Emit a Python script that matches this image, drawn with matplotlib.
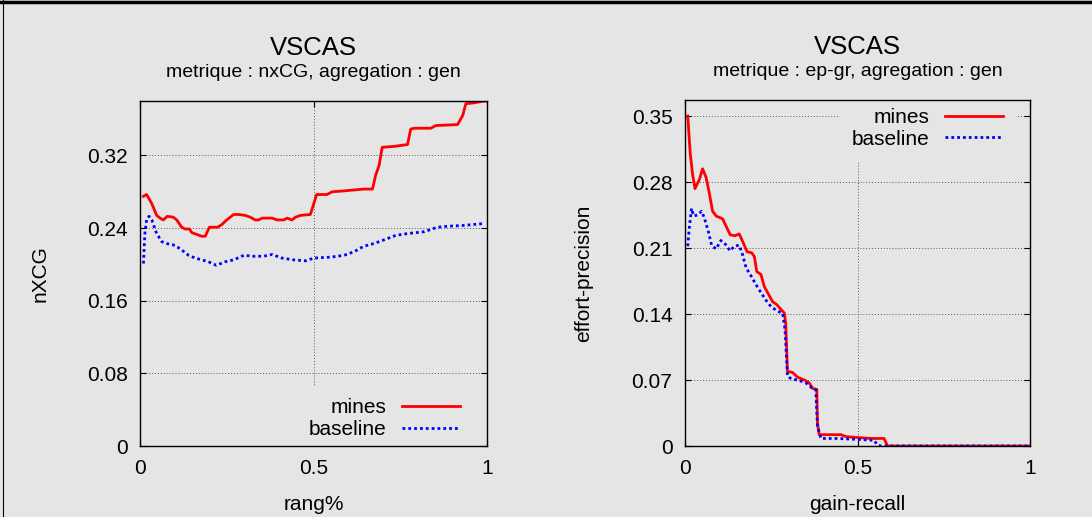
import matplotlib
matplotlib.use("Agg")
import matplotlib.pyplot as plt
from matplotlib.lines import Line2D

plt.rcParams['font.family'] = ['Liberation Sans', 'DejaVu Sans']

# nxCG panel
rang = [0.010, 0.019, 0.034, 0.048, 0.058, 0.067, 0.079, 0.096, 0.106, 0.120,
        0.130, 0.143, 0.149, 0.164, 0.178, 0.188, 0.200, 0.212, 0.224, 0.236,
        0.250, 0.270, 0.284, 0.303, 0.318, 0.332, 0.342, 0.352, 0.366, 0.381,
        0.395, 0.414, 0.424, 0.438, 0.448, 0.462, 0.491, 0.509, 0.539, 0.554,
        0.588, 0.617, 0.645, 0.670, 0.679, 0.689, 0.698, 0.732, 0.771, 0.780,
        0.790, 0.838, 0.853, 0.915, 0.930, 0.939, 0.963, 0.992, 1.000]
nxcg_mines = [0.275, 0.277, 0.267, 0.254, 0.251, 0.249, 0.253, 0.252, 0.249, 0.241,
              0.239, 0.239, 0.235, 0.233, 0.231, 0.231, 0.241, 0.241, 0.241, 0.244,
              0.249, 0.255, 0.255, 0.254, 0.252, 0.249, 0.249, 0.251, 0.251, 0.251,
              0.249, 0.249, 0.251, 0.249, 0.252, 0.254, 0.255, 0.277, 0.277, 0.280,
              0.281, 0.282, 0.283, 0.283, 0.298, 0.309, 0.329, 0.330, 0.332, 0.349,
              0.350, 0.350, 0.353, 0.354, 0.364, 0.377, 0.378, 0.380, 0.380]

rang_b = [0.010, 0.014, 0.019, 0.026, 0.034, 0.048, 0.063, 0.077, 0.101, 0.120,
          0.140, 0.159, 0.178, 0.197, 0.220, 0.246, 0.270, 0.299, 0.328, 0.356,
          0.381, 0.409, 0.443, 0.477, 0.501, 0.549, 0.588, 0.617, 0.645, 0.674,
          0.703, 0.737, 0.771, 0.819, 0.857, 0.886, 0.934, 0.990]
nxcg_base = [0.201, 0.234, 0.249, 0.253, 0.249, 0.234, 0.225, 0.223, 0.221, 0.216,
             0.210, 0.207, 0.205, 0.203, 0.199, 0.203, 0.205, 0.210, 0.209, 0.209,
             0.211, 0.207, 0.205, 0.204, 0.207, 0.208, 0.210, 0.214, 0.220, 0.223,
             0.227, 0.232, 0.234, 0.236, 0.241, 0.242, 0.243, 0.245]

# ep-gr panel
recall_m = [0.008, 0.015, 0.022, 0.029, 0.042, 0.051, 0.061, 0.070, 0.080, 0.090,
            0.109, 0.118, 0.131, 0.145, 0.157, 0.167, 0.180, 0.193, 0.201, 0.208,
            0.220, 0.230, 0.239, 0.254, 0.266, 0.278, 0.288, 0.292, 0.297, 0.312,
            0.326, 0.346, 0.360, 0.370, 0.382, 0.384, 0.389, 0.413, 0.452, 0.466,
            0.500, 0.539, 0.577, 0.587, 1.000]
ep_mines = [0.350, 0.311, 0.288, 0.273, 0.283, 0.294, 0.285, 0.269, 0.249, 0.244,
            0.241, 0.234, 0.224, 0.223, 0.225, 0.217, 0.206, 0.205, 0.201, 0.185,
            0.182, 0.169, 0.163, 0.153, 0.150, 0.145, 0.141, 0.130, 0.079, 0.078,
            0.073, 0.070, 0.067, 0.061, 0.060, 0.024, 0.012, 0.012, 0.012, 0.010,
            0.009, 0.008, 0.008, 0.000, 0.000]

recall_b = [0.008, 0.012, 0.019, 0.025, 0.036, 0.048, 0.056, 0.068, 0.077, 0.090,
            0.104, 0.117, 0.131, 0.143, 0.157, 0.167, 0.177, 0.189, 0.206, 0.218,
            0.234, 0.249, 0.268, 0.283, 0.290, 0.297, 0.309, 0.326, 0.350, 0.370,
            0.379, 0.384, 0.394, 0.442, 0.500, 0.548, 0.558, 0.568, 1.000]
ep_base = [0.212, 0.230, 0.252, 0.244, 0.245, 0.249, 0.242, 0.227, 0.213, 0.209,
           0.218, 0.214, 0.207, 0.212, 0.213, 0.203, 0.189, 0.182, 0.171, 0.164,
           0.155, 0.148, 0.143, 0.141, 0.123, 0.074, 0.071, 0.070, 0.067, 0.061,
           0.060, 0.021, 0.008, 0.008, 0.007, 0.006, 0.001, 0.000, 0.000]

bg = '#e5e5e5'
fs = 15
fig = plt.figure(figsize=(10.92, 5.17), dpi=100, facecolor=bg)

panels = [
    dict(pos=[140/1092, 71/517, 347/1092, 345/517], x1=rang, y1=nxcg_mines,
         x2=rang_b, y2=nxcg_base, ymax=0.38, yticks=[0, 0.08, 0.16, 0.24, 0.32],
         ytl=['0', '0.08', '0.16', '0.24', '0.32'], sub='metrique : nxCG, agregation : gen',
         xlabel='rang%', ylabel='nXCG', ylx=-0.288, leg_y=0.079),
    dict(pos=[685/1092, 71/517, 345/1092, 346/517], x1=recall_m, y1=ep_mines,
         x2=recall_b, y2=ep_base, ymax=0.367, yticks=[0, 0.07, 0.14, 0.21, 0.28, 0.35],
         ytl=['0', '0.07', '0.14', '0.21', '0.28', '0.35'],
         sub='metrique : ep-gr, agregation : gen',
         xlabel='gain-recall', ylabel='effort-precision', ylx=-0.293, leg_y=0.918),
]

for p in panels:
    ax = fig.add_axes(p['pos'])
    ax.set_facecolor(bg)
    ax.plot(p['x1'], p['y1'], color='#ff0000', lw=2.0, label='mines')
    ax.plot(p['x2'], p['y2'], color='#0000ff', lw=2.0, ls=(0, (1, 1.1)), label='baseline')
    ax.set_xlim(0, 1)
    ax.set_ylim(0, p['ymax'])
    ax.set_xticks([0, 0.5, 1])
    ax.set_xticklabels(['0', '0.5', '1'])
    ax.set_yticks(p['yticks'])
    ax.set_yticklabels(p['ytl'])
    ax.tick_params(direction='in', length=4.5, width=0.8, labelsize=fs,
                   top=True, right=True, pad=9)
    ax.grid(True, color='#555555', ls=(0, (1, 2)), lw=0.7)
    for s in ax.spines.values():
        s.set_linewidth(1.0)
    ax.set_xlabel(p['xlabel'], fontsize=fs, va='baseline')
    ax.xaxis.set_label_coords(0.5, -0.186)
    ax.set_ylabel(p['ylabel'], fontsize=fs, va='center')
    ax.yaxis.set_label_coords(p['ylx'], 0.5)
    ax.text(0.5, 1.133, 'VSCAS', transform=ax.transAxes, ha='center', va='baseline', fontsize=18.5)
    ax.text(0.5, 1.070, p['sub'], transform=ax.transAxes, ha='center', va='baseline', fontsize=14)
    leg = ax.legend(loc='center right', bbox_to_anchor=(0.958, p['leg_y']), markerfirst=False,
                    frameon=True, facecolor=bg, edgecolor='none', framealpha=1,
                    fontsize=fs, handlelength=2.8, borderpad=0.6, labelspacing=0.12,
                    handletextpad=0.72, borderaxespad=0)
    leg.set_zorder(2.2)  # keep the spines drawn over the legend box
    for t in leg.get_texts():
        t.set_ha('right')

# page frame lines
fig.add_artist(Line2D([0, 1], [0.997, 0.997], transform=fig.transFigure, color='black', lw=2.5))
fig.add_artist(Line2D([0.003, 0.003], [0, 1], transform=fig.transFigure, color='black', lw=0.8))

fig.savefig('out.png', dpi=100, facecolor=bg)
